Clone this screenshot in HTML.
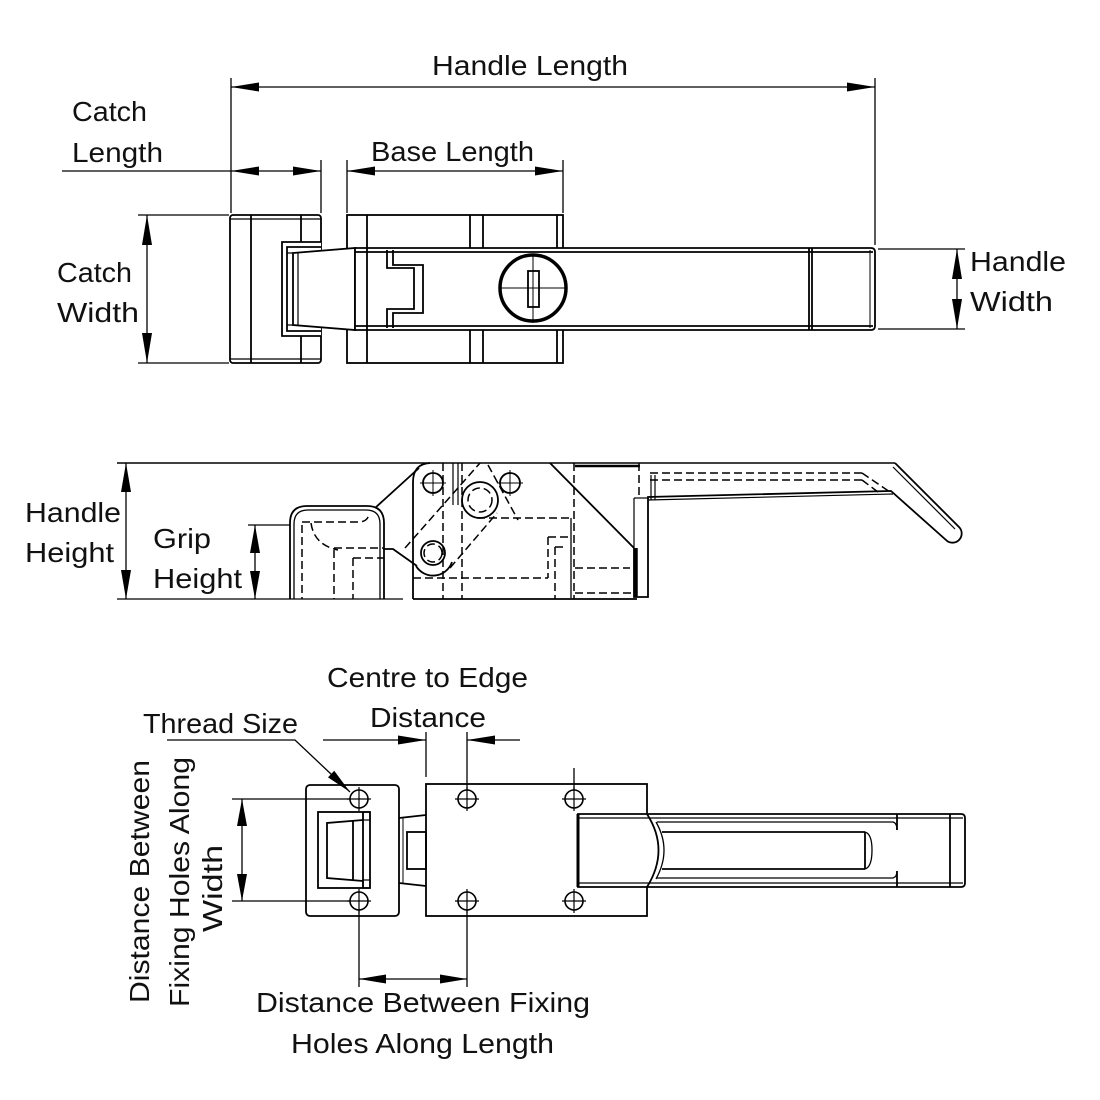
<!DOCTYPE html>
<html><head><meta charset="utf-8"><style>
html,body{margin:0;padding:0;background:#fff;}
svg{display:block;}
text{font-family:"Liberation Sans",sans-serif;font-size:28px;fill:#111;}
</style></head><body>
<svg width="1100" height="1100" viewBox="0 0 1100 1100" xmlns="http://www.w3.org/2000/svg">
<rect width="1100" height="1100" fill="#fff"/>

<!-- ===== LABELS ===== -->
<text x="432" y="75" textLength="196" lengthAdjust="spacingAndGlyphs">Handle Length</text>
<text x="72" y="121" textLength="75" lengthAdjust="spacingAndGlyphs">Catch</text>
<text x="72" y="162" textLength="91" lengthAdjust="spacingAndGlyphs">Length</text>
<text x="371" y="161" textLength="163" lengthAdjust="spacingAndGlyphs">Base Length</text>
<text x="57" y="282" textLength="75" lengthAdjust="spacingAndGlyphs">Catch</text>
<text x="57" y="322" textLength="82" lengthAdjust="spacingAndGlyphs">Width</text>
<text x="970" y="271" textLength="96" lengthAdjust="spacingAndGlyphs">Handle</text>
<text x="970" y="311" textLength="83" lengthAdjust="spacingAndGlyphs">Width</text>
<text x="25" y="522" textLength="96" lengthAdjust="spacingAndGlyphs">Handle</text>
<text x="25" y="562" textLength="89" lengthAdjust="spacingAndGlyphs">Height</text>
<text x="153" y="548" textLength="58" lengthAdjust="spacingAndGlyphs">Grip</text>
<text x="153" y="588" textLength="89" lengthAdjust="spacingAndGlyphs">Height</text>
<text x="327" y="687" textLength="201" lengthAdjust="spacingAndGlyphs">Centre to Edge</text>
<text x="370" y="727" textLength="116" lengthAdjust="spacingAndGlyphs">Distance</text>
<text x="143" y="733" textLength="155" lengthAdjust="spacingAndGlyphs">Thread Size</text>
<text x="256" y="1012" textLength="334" lengthAdjust="spacingAndGlyphs">Distance Between Fixing</text>
<text x="291" y="1053" textLength="263" lengthAdjust="spacingAndGlyphs">Holes Along Length</text>
<text transform="translate(149,1003) rotate(-90)" textLength="243" lengthAdjust="spacingAndGlyphs">Distance Between</text>
<text transform="translate(189,1007) rotate(-90)" textLength="250" lengthAdjust="spacingAndGlyphs">Fixing Holes Along</text>
<text transform="translate(222,932) rotate(-90)" textLength="87" lengthAdjust="spacingAndGlyphs">Width</text>

<!-- ===== DIMENSION LINES ===== -->
<g stroke="#000" stroke-width="1.3" fill="none">
  <!-- handle length -->
  <line x1="231" y1="78" x2="231" y2="213"/>
  <line x1="875" y1="78" x2="875" y2="245"/>
  <line x1="231" y1="87" x2="875" y2="87"/>
  <!-- catch length / base length -->
  <line x1="62" y1="171" x2="321" y2="171"/>
  <line x1="321" y1="160" x2="321" y2="213"/>
  <line x1="347" y1="160" x2="347" y2="213"/>
  <line x1="563" y1="160" x2="563" y2="213"/>
  <line x1="347" y1="171" x2="563" y2="171"/>
  <!-- catch width -->
  <line x1="138" y1="215" x2="229" y2="215"/>
  <line x1="138" y1="363" x2="229" y2="363"/>
  <line x1="147" y1="215" x2="147" y2="363"/>
  <!-- handle width -->
  <line x1="878" y1="249" x2="965" y2="249"/>
  <line x1="878" y1="329" x2="965" y2="329"/>
  <line x1="957" y1="249" x2="957" y2="329"/>
  <!-- handle height -->
  <line x1="117" y1="599" x2="403" y2="599"/>
  <line x1="126" y1="463" x2="126" y2="599"/>
  <!-- grip height -->
  <line x1="248" y1="525" x2="290" y2="525"/>
  <line x1="255" y1="525" x2="255" y2="599"/>
  <!-- centre to edge -->
  <line x1="323" y1="740" x2="426" y2="740"/>
  <line x1="467" y1="740" x2="520" y2="740"/>
  <line x1="426" y1="732" x2="426" y2="777"/>
  <line x1="467" y1="732" x2="467" y2="790"/>
  <line x1="574" y1="768" x2="574" y2="790"/>
  <!-- thread leader -->
  <polyline points="167,740 295,740 350,792"/>
  <!-- width holes -->
  <line x1="232" y1="799" x2="350" y2="799"/>
  <line x1="232" y1="901" x2="350" y2="901"/>
  <line x1="242" y1="799" x2="242" y2="901"/>
  <!-- length holes -->
  <line x1="359" y1="910" x2="359" y2="987"/>
  <line x1="467" y1="910" x2="467" y2="987"/>
  <line x1="359" y1="979" x2="467" y2="979"/>
</g>
<g fill="#000">
  <polygon points="231,87 259,82.5 259,91.5"/>
  <polygon points="875,87 847,82.5 847,91.5"/>
  <polygon points="231,171 259,166.5 259,175.5"/>
  <polygon points="321,171 293,166.5 293,175.5"/>
  <polygon points="347,171 375,166.5 375,175.5"/>
  <polygon points="563,171 535,166.5 535,175.5"/>
  <polygon points="147,215 142,245 152,245"/>
  <polygon points="147,363 142,333 152,333"/>
  <polygon points="957,249 952,279 962,279"/>
  <polygon points="957,329 952,299 962,299"/>
  <polygon points="126,463 121,492 131,492"/>
  <polygon points="126,599 121,570 131,570"/>
  <polygon points="255,525 250,553 260,553"/>
  <polygon points="255,599 250,571 260,571"/>
  <polygon points="426,740 398,735.5 398,744.5"/>
  <polygon points="467,740 495,735.5 495,744.5"/>
  <polygon points="350,792 328,777.4 334.2,770.8"/>
  <polygon points="242,799 237,826 247,826"/>
  <polygon points="242,901 237,874 247,874"/>
  <polygon points="359,979 386,974.5 386,983.5"/>
  <polygon points="467,979 440,974.5 440,983.5"/>
</g>

<!-- ===== TOP VIEW ===== -->
<g stroke="#000" stroke-width="1.8" fill="none">
  <!-- catch -->
  <rect x="230" y="215" width="91" height="148" rx="3"/>
  <line x1="230" y1="219" x2="321" y2="219" stroke-width="1.2"/>
  <line x1="230" y1="359" x2="321" y2="359" stroke-width="1.2"/>
  <line x1="251" y1="215" x2="251" y2="363"/>
  <line x1="301" y1="215" x2="301" y2="242"/>
  <line x1="301" y1="336" x2="301" y2="363"/>
  <path d="M321,242 H282 V336 H321" fill="#fff"/>
  <path d="M321,247 H287 V331 H321"/>
  <line x1="287" y1="253" x2="321" y2="253" stroke-width="1.2"/>
  <line x1="287" y1="325" x2="321" y2="325" stroke-width="1.2"/>
  <!-- base -->
  <rect x="347" y="215" width="216" height="148"/>
  <line x1="470" y1="215" x2="470" y2="363"/>
  <line x1="483" y1="215" x2="483" y2="363"/>
  <line x1="557" y1="215" x2="557" y2="363"/>
  <!-- tongue -->
  <path d="M293,253 L355,248 L355,330 L293,325 Z" fill="#fff"/>
  <line x1="298" y1="253" x2="298" y2="326" stroke-width="1.2"/>
  <!-- handle band -->
  <path d="M355,248 H871 Q875,248 875,252 V326 Q875,330 871,330 H355 Z" fill="#fff"/>
  <line x1="355" y1="252" x2="873" y2="252"/>
  <line x1="355" y1="326" x2="873" y2="326"/>
  <line x1="367" y1="215" x2="367" y2="363"/>
  <line x1="809" y1="248" x2="809" y2="330"/>
  <line x1="812" y1="248" x2="812" y2="330"/>
  <line x1="870" y1="250" x2="870" y2="328" stroke-width="1"/>
  <!-- slot -->
  <path d="M387,250 V268 H414 V309 H387 V328"/>
  <path d="M393,250 V265 H423 V313 H393 V328"/>
  <!-- lock -->
  <circle cx="533" cy="288" r="33" stroke-width="3.5"/>
  <rect x="528" y="271" width="11" height="36"/>
  <line x1="501" y1="288" x2="567" y2="288" stroke-width="1"/>
  <line x1="533" y1="254" x2="533" y2="323" stroke-width="1"/>
</g>

<!-- ===== SIDE VIEW ===== -->
<g stroke="#000" stroke-width="1.8" fill="none">
  <line x1="117" y1="463" x2="895" y2="463" stroke-width="1.6"/>
  <line x1="575" y1="466" x2="640" y2="466" stroke-width="2.5"/>
  <!-- catch -->
  <path d="M290,599 V523 Q290,506 307,506 H367 Q384,506 384,523 V599"/>
  <path d="M294,599 V524 Q294,510 308,510 H366 Q380,510 380,524 V599" stroke-width="1.3"/>
  <line x1="375" y1="508" x2="419" y2="468"/>
  <!-- body -->
  <path d="M413,599 V482 Q413,464 430,463"/>
  <line x1="413" y1="599" x2="637" y2="599"/>
  <line x1="550" y1="463" x2="634" y2="548"/>
  <line x1="571" y1="518" x2="571" y2="598" stroke-width="1.3"/>
  <line x1="453" y1="463" x2="453" y2="505" stroke-width="1.2"/>
  <line x1="458" y1="463" x2="458" y2="505" stroke-width="1.2"/>
  <!-- S link -->
  <path d="M383,549 L393,549 L417,566"/>
  <path d="M416,566 A20,20 0 0 0 452,562"/>
  <!-- holes -->
  <circle cx="433" cy="483" r="10"/>
  <circle cx="510" cy="483" r="10"/>
  <circle cx="480" cy="500" r="18"/>
  <circle cx="433" cy="553" r="12"/>
  <g stroke-width="1">
    <line x1="420" y1="483" x2="446" y2="483"/><line x1="433" y1="470" x2="433" y2="496"/>
    <line x1="497" y1="483" x2="523" y2="483"/><line x1="510" y1="470" x2="510" y2="496"/>
  </g>
  <!-- lever -->
  <path d="M895,463 L959,527 A9,9 0 0 1 946,540 L891,491 L648,497 L648,597 L634,597 L634,548"/>
  <path d="M893,467 L955,529" stroke-width="1.2"/>
  <path d="M648,500 L893,494" stroke-width="1.2"/>
  <line x1="636" y1="548" x2="636" y2="597" stroke-width="3.5"/>
  <line x1="634" y1="498" x2="648" y2="498" stroke-width="1.2"/>
  <line x1="634" y1="498" x2="634" y2="548" stroke-width="1.2"/>
  <line x1="651" y1="475" x2="651" y2="500" stroke-width="1.2"/>
  <line x1="655" y1="475" x2="655" y2="500" stroke-width="1.2"/>
</g>
<g stroke="#000" stroke-width="1.5" fill="none" stroke-dasharray="8 4">
  <!-- catch hidden -->
  <line x1="302" y1="525" x2="302" y2="599"/>
  <path d="M302,522 H360 Q368,521 369,514"/>
  <path d="M311,523 Q314,545 338,550"/>
  <line x1="334" y1="550" x2="334" y2="599"/>
  <line x1="334" y1="548" x2="383" y2="548"/>
  <line x1="353" y1="558" x2="353" y2="599"/>
  <line x1="353" y1="558" x2="384" y2="558"/>
  <!-- body hidden -->
  <line x1="443" y1="463" x2="443" y2="599"/>
  <line x1="462" y1="463" x2="462" y2="599"/>
  <line x1="574" y1="463" x2="574" y2="599"/>
  <line x1="639" y1="463" x2="639" y2="498"/>
  <line x1="477" y1="518" x2="572" y2="518"/>
  <line x1="413" y1="578" x2="548" y2="578"/>
  <line x1="548" y1="537" x2="548" y2="578"/>
  <line x1="548" y1="537" x2="568" y2="537"/>
  <line x1="555" y1="547" x2="555" y2="599"/>
  <line x1="555" y1="547" x2="566" y2="547"/>
  <line x1="575" y1="568" x2="630" y2="568"/>
  <line x1="575" y1="593" x2="632" y2="593"/>
  <line x1="405" y1="548" x2="480" y2="463"/>
  <line x1="450" y1="568" x2="497" y2="513"/>
  <line x1="488" y1="465" x2="518" y2="520"/>
  <circle cx="480" cy="500" r="12"/>
  <circle cx="433" cy="553" r="9"/>
  <!-- lever hidden -->
  <line x1="650" y1="473" x2="862" y2="473"/>
  <line x1="650" y1="480" x2="862" y2="480"/>
  <line x1="862" y1="473" x2="890" y2="492"/>
  <line x1="862" y1="480" x2="878" y2="492"/>
</g>

<!-- ===== BOTTOM VIEW ===== -->
<g stroke="#000" stroke-width="1.8" fill="none">
  <!-- catch plate -->
  <rect x="306" y="785" width="93" height="131" rx="4"/>
  <rect x="318" y="812" width="52" height="76"/>
  <line x1="363" y1="812" x2="363" y2="888"/>
  <rect x="363" y="812" width="7" height="8" stroke-width="1.2"/>
  <rect x="363" y="880" width="7" height="8" stroke-width="1.2"/>
  <path d="M363,820 L327,823 L327,878 L363,881"/>
  <line x1="353" y1="820" x2="353" y2="881"/>
  <!-- tongue -->
  <path d="M399,818 L426,815"/>
  <path d="M399,883 L426,886"/>
  <rect x="407" y="832" width="19" height="37"/>
  <line x1="403" y1="818" x2="403" y2="883" stroke-width="1"/>
  <!-- base plate -->
  <rect x="426" y="784" width="221" height="132"/>
  <!-- handle band -->
  <path d="M578,814 H961 Q965,814 965,818 V883 Q965,887 961,887 H578 Z" fill="#fff"/>
  <line x1="578" y1="814" x2="578" y2="887" stroke-width="3"/>
  <line x1="578" y1="818" x2="963" y2="818" stroke-width="1.3"/>
  <line x1="578" y1="883" x2="963" y2="883" stroke-width="1.3"/>
  <path d="M647,814 Q670,850 647,887"/>
  <path d="M656,822 Q672,850 656,879" stroke-width="1.3"/>
  <path d="M657,822 H893 Q897,823 897,830" stroke-width="1.3"/>
  <path d="M657,878 H893 Q897,877 897,871" stroke-width="1.3"/>
  <line x1="662" y1="832" x2="865" y2="832"/>
  <line x1="662" y1="869" x2="865" y2="869"/>
  <line x1="865" y1="832" x2="865" y2="869"/>
  <path d="M865,832 Q872,834 872,850 Q872,867 865,869" stroke-width="1.3"/>
  <line x1="897" y1="814" x2="897" y2="830"/>
  <line x1="897" y1="871" x2="897" y2="887"/>
  <line x1="950" y1="814" x2="950" y2="887"/>
</g>
<!-- holes bottom view -->
<g stroke="#000" stroke-width="1.6" fill="#fff">
  <circle cx="359" cy="799" r="9"/>
  <circle cx="359" cy="901" r="9"/>
  <circle cx="467" cy="799" r="9"/>
  <circle cx="574" cy="799" r="9"/>
  <circle cx="467" cy="901" r="9"/>
  <circle cx="574" cy="901" r="9"/>
</g>
<g stroke="#000" stroke-width="1.2">
  <line x1="347" y1="799" x2="371" y2="799"/><line x1="359" y1="787" x2="359" y2="811"/>
  <line x1="347" y1="901" x2="371" y2="901"/><line x1="359" y1="889" x2="359" y2="913"/>
  <line x1="455" y1="799" x2="479" y2="799"/><line x1="467" y1="787" x2="467" y2="811"/>
  <line x1="562" y1="799" x2="586" y2="799"/><line x1="574" y1="787" x2="574" y2="811"/>
  <line x1="455" y1="901" x2="479" y2="901"/><line x1="467" y1="889" x2="467" y2="913"/>
  <line x1="562" y1="901" x2="586" y2="901"/><line x1="574" y1="889" x2="574" y2="913"/>
</g>
</svg>
</body></html>
